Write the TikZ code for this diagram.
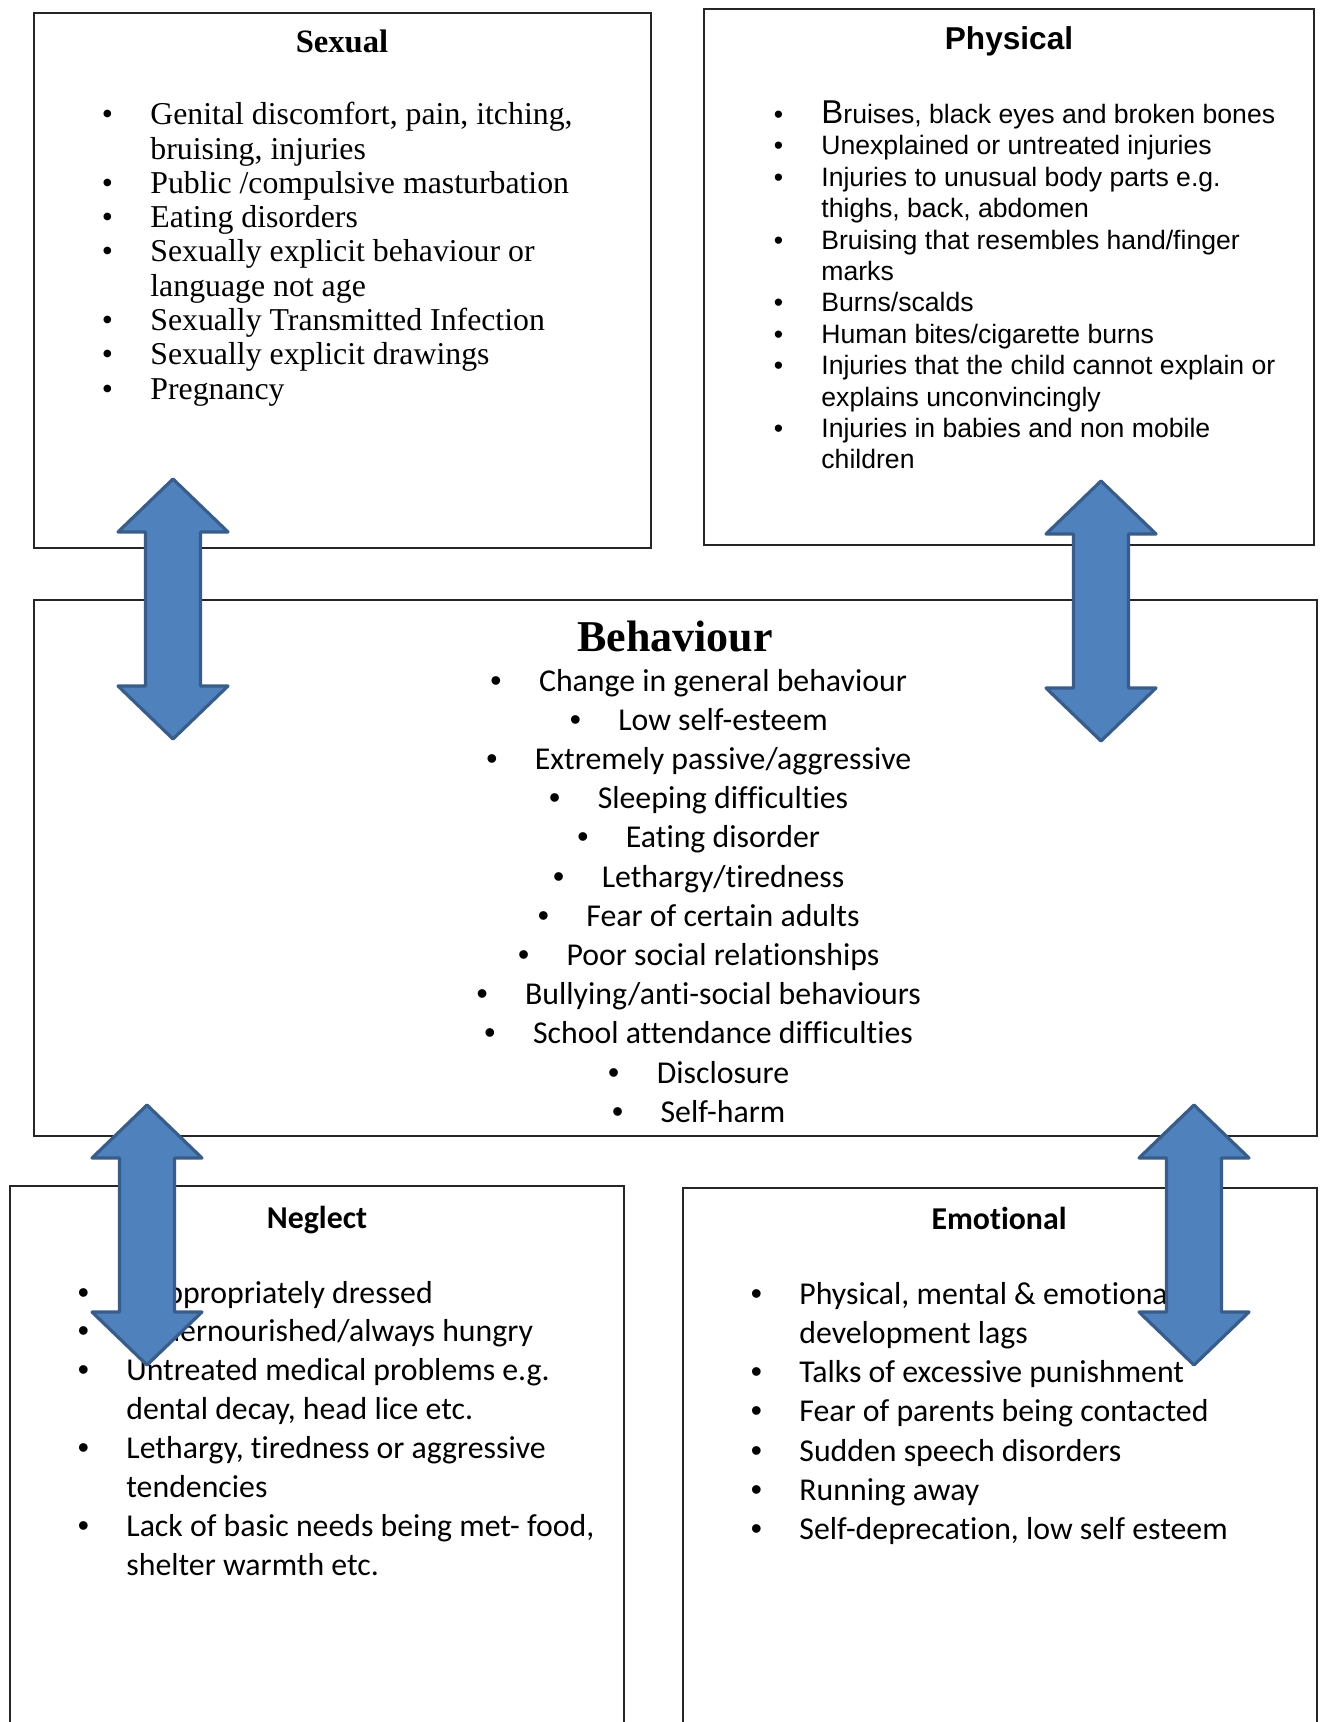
\documentclass[tikz,border=0pt]{standalone}
\usepackage{fontspec}
\setmainfont{Liberation Serif}
\newfontfamily\arialfont{Liberation Sans}
\newfontfamily\calibrifont[Ligatures=NoCommon]{Carlito}
\definecolor{arrowblue}{HTML}{4F81BD}
\definecolor{arrowedge}{HTML}{385D8A}
% bullet hung in front of the text (lists) or set inline (behaviour)
\newcommand{\bul}{\llap{\makebox[43pt][c]{\textbullet}}}
\newcommand{\bulc}{\makebox[43pt][c]{{\arialfont\textbullet}}}
\newcommand{\bula}{\llap{\makebox[43pt][c]{{\arialfont\textbullet}}}}

\begin{document}
\begin{tikzpicture}[x=0.5pt, y=-0.5pt,
    box/.style={draw=black!85, line width=0.6pt},
    blockarrow/.style={fill=arrowblue, draw=arrowedge, line width=1.6pt, line join=round},
    txt/.style={inner sep=0pt, anchor=base},
    item/.style={inner sep=0pt, anchor=base west},
    sexfont/.style={font=\fontsize{15.9}{17}\selectfont},
    phyfont/.style={font=\arialfont\fontsize{13.3}{15.6}\selectfont},
    calfont/.style={font=\calibrifont\fontsize{15.9}{19.5}\selectfont}]
	\useasboundingbox (0,0) rectangle (1320,1722);
	\fill [white] (0,0) rectangle (1320,1722);

	% the five boxes
	\draw [box] (34,13) rectangle (651,548);
	\draw [box] (704,9) rectangle (1314,545);
	\draw [box] (34,600) rectangle (1317,1136);
	\draw [box] (10,1760) -- (10,1186) -- (624,1186) -- (624,1760);
	\draw [box] (683,1760) -- (683,1188) -- (1317,1188) -- (1317,1760);

	% Sexual
	\node [txt, font=\fontsize{16.3}{19}\selectfont\bfseries] (sextitle) at (342,53) {Sexual};
	\foreach \t [count=\i from 0] in {{\bul Genital discomfort, pain, itching,}, {bruising, injuries},
		{\bul Public /compulsive masturbation}, {\bul Eating disorders},
		{\bul Sexually explicit behaviour or}, {language not age},
		{\bul Sexually Transmitted Infection}, {\bul Sexually explicit drawings}, {\bul Pregnancy}}{
		\node [item, sexfont] (sex\i) at (150,125+34.25*\i) {\t};
	}

	% Physical
	\node [txt, font=\arialfont\fontsize{15.8}{19}\selectfont\bfseries] (phytitle) at (1009,50) {Physical};
	\foreach \t [count=\i from 0] in {{\bul {\fontsize{16.5}{16.5}\selectfont B}ruises, black eyes and broken bones},
		{\bul Unexplained or untreated injuries}, {\bul Injuries to unusual body parts e.g.},
		{thighs, back, abdomen}, {\bul Bruising that resembles hand/finger}, {marks},
		{\bul Burns/scalds}, {\bul Human bites/cigarette burns},
		{\bul Injuries that the child cannot explain or}, {explains unconvincingly},
		{\bul Injuries in babies and non mobile}, {children}}{
		\node [item, phyfont] (phy\i) at (821,123.5+31.4*\i) {\t};
	}

	% Behaviour
	\node [txt, font=\fontsize{22}{26}\selectfont\bfseries] (behtitle) at (675,651) {Behaviour};
	\foreach \t [count=\i from 0] in {Change in general behaviour, Low self-esteem,
		Extremely passive/aggressive, Sleeping difficulties, Eating disorder,
		Lethargy/tiredness, Fear of certain adults, Poor social relationships,
		Bullying/anti-social behaviours, School attendance difficulties,
		Disclosure, Self-harm}{
		\node [txt, calfont] (beh\i) at (680,691+39.2*\i) {\bulc\t};
	}

	% Neglect
	\node [txt, font=\calibrifont\fontsize{15.9}{19.5}\selectfont\bfseries] (negtitle) at (317,1228) {Neglect};
	\foreach \t [count=\i from 0] in {{\bula Inappropriately dressed}, {\bula Undernourished/always hungry},
		{\bula Untreated medical problems e.g.}, {dental decay, head lice etc.},
		{\bula Lethargy, tiredness or aggressive}, {tendencies},
		{\bula Lack of basic needs being met- food,}, {shelter warmth etc.}}{
		\node [item, calfont] (neg\i) at (126,1303+38.95*\i) {\t};
	}

	% Emotional
	\node [txt, font=\calibrifont\fontsize{15.9}{19.5}\selectfont\bfseries] (emotitle) at (999,1229) {Emotional};
	\foreach \t [count=\i from 0] in {{\bula Physical, mental \& emotional}, {development lags},
		{\bula Talks of excessive punishment}, {\bula Fear of parents being contacted},
		{\bula Sudden speech disorders}, {\bula Running away},
		{\bula Self-deprecation, low self esteem}}{
		\node [item, calfont] (emo\i) at (799,1304+39.3*\i) {\t};
	}

	% double block arrows, drawn over everything
	\foreach \ax/\ay in {173/479, 1101/481, 147/1105, 1194/1105}{
		\draw [blockarrow] (\ax,\ay) -- ++(55,53) -- ++(-27.5,0) -- ++(0,154) -- ++(27.5,0)
			-- ++(-55,53) -- ++(-55,-53) -- ++(27.5,0) -- ++(0,-154) -- ++(-27.5,0) -- cycle;
	}
\end{tikzpicture}
\end{document}
